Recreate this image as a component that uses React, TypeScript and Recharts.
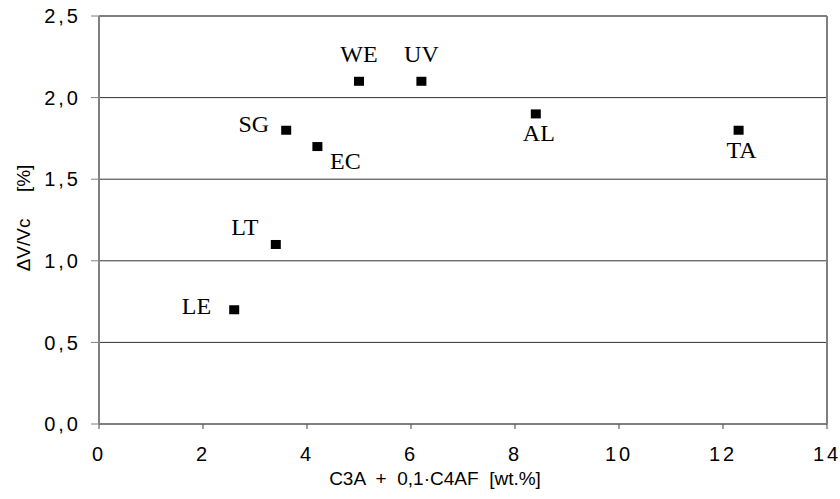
import { ScatterChart, Scatter, XAxis, YAxis, CartesianGrid, ReferenceLine } from "recharts";

const names = ["LE", "LT", "SG", "EC", "WE", "UV", "AL", "TA"];
const xValues = [2.6, 3.4, 3.6, 4.2, 5.0, 6.2, 8.4, 12.3];
const yValues = [0.7, 1.1, 1.8, 1.7, 2.1, 2.1, 1.9, 1.8];
const xTicks = [0, 2, 4, 6, 8, 10, 12, 14];
const yTicks = [0, 0.5, 1.0, 1.5, 2.0, 2.5];

const points = names.map((name, i) => ({ name, x: xValues[i], y: yValues[i] }));

// where each point's label sits relative to its marker
const labelPos: Record<string, { dx: number; dy: number; anchor: "start" | "middle" | "end" }> = {
  LE: { dx: -23, dy: -4, anchor: "end" },
  LT: { dx: -31, dy: -17, anchor: "middle" },
  SG: { dx: -17, dy: -6, anchor: "end" },
  EC: { dx: 28, dy: 14, anchor: "middle" },
  WE: { dx: 0, dy: -27, anchor: "middle" },
  UV: { dx: 0, dy: -27, anchor: "middle" },
  AL: { dx: 3, dy: 19, anchor: "middle" },
  TA: { dx: 3, dy: 20, anchor: "middle" },
};

const sans = "'Liberation Sans', Arial, sans-serif";
const serif = "'Liberation Serif', 'Times New Roman', serif";
const fmt = (v: number) => v.toFixed(1).replace(".", ",");

const Marker = (props: any) => {
  const { cx, cy, payload } = props;
  const p = labelPos[payload.name];
  return (
    <g>
      <rect x={cx - 5} y={cy - 4.5} width={10} height={9} fill="#000" />
      <text
        x={cx + p.dx}
        y={cy + p.dy}
        textAnchor={p.anchor}
        dominantBaseline="central"
        fontFamily={serif}
        fontSize={24}
        fill="#000"
      >
        {payload.name}
      </text>
    </g>
  );
};

export default function App() {
  return (
    <div style={{ position: "absolute", left: 0, top: 0, background: "#fff" }}>
      <ScatterChart width={840} height={499} margin={{ top: 16, right: 13, bottom: 20, left: 39 }}>
        <CartesianGrid vertical={false} stroke="#333" strokeWidth={1} />
        <XAxis
          type="number"
          dataKey="x"
          domain={[0, 14]}
          ticks={xTicks}
          height={55}
          tickSize={5}
          tickMargin={18}
          axisLine={{ stroke: "#808080", strokeWidth: 2 }}
          tickLine={{ stroke: "#444" }}
          tick={{ fontFamily: sans, fontSize: 20, fill: "#000", letterSpacing: 3 }}
          label={{
            content: (props: any) => {
              const vb = props.viewBox;
              return (
                <text
                  x={vb.x + vb.width / 2 - 28}
                  y={vb.y + 61}
                  textAnchor="middle"
                  fontFamily={sans}
                  fontSize={19}
                  fill="#000"
                  style={{ whiteSpace: "pre" }}
                >
                  {"C3A  +  0,1·C4AF  [wt.%]"}
                </text>
              );
            },
          }}
        />
        <YAxis
          type="number"
          dataKey="y"
          domain={[0, 2.5]}
          ticks={yTicks}
          width={60}
          tickSize={8}
          tickMargin={10}
          tickFormatter={fmt}
          axisLine={{ stroke: "#808080", strokeWidth: 2 }}
          tickLine={{ stroke: "#808080" }}
          tick={{ fontFamily: sans, fontSize: 20, fill: "#000", letterSpacing: 3 }}
          label={{
            content: (props: any) => {
              const vb = props.viewBox;
              const cy = vb.y + vb.height / 2 - 2;
              return (
                <text
                  x={23}
                  y={cy}
                  transform={`rotate(-90 23 ${cy})`}
                  textAnchor="middle"
                  dominantBaseline="central"
                  fontFamily={sans}
                  fontSize={19}
                  fill="#000"
                  style={{ whiteSpace: "pre" }}
                >
                  {"ΔV/Vc     [%]"}
                </text>
              );
            },
          }}
        />
        <ReferenceLine y={2.5} stroke="#808080" strokeWidth={2} />
        <ReferenceLine x={14} stroke="#808080" strokeWidth={2} />
        <Scatter data={points} shape={Marker} isAnimationActive={false} />
      </ScatterChart>
    </div>
  );
}
